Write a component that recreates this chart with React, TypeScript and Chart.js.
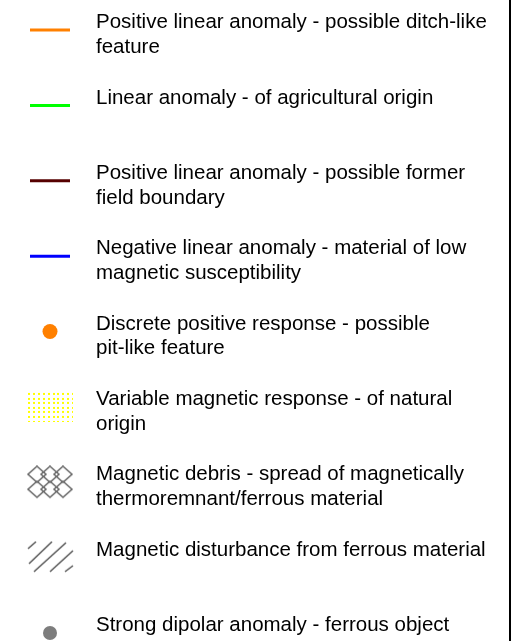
import React, { useEffect, useRef } from 'react';
import { Chart, registerables } from 'chart.js';

Chart.register(...registerables);

// ---- data ----
const legendLabels: string[][] = [
  ['Positive linear anomaly - possible ditch-like', 'feature'],
  ['Linear anomaly - of agricultural origin'],
  ['Positive linear anomaly - possible former', 'field boundary'],
  ['Negative linear anomaly - material of low', 'magnetic susceptibility'],
  ['Discrete positive response - possible', 'pit-like feature'],
  ['Variable magnetic response - of natural', 'origin'],
  ['Magnetic debris - spread of magnetically', 'thermoremnant/ferrous material'],
  ['Magnetic disturbance from ferrous material'],
  ['Strong dipolar anomaly - ferrous object'],
];
const legendRows: number[] = [0, 1, 2, 3, 4, 5, 6, 7, 8];
const symbolColumn = 1;
const symbolKinds: string[] = ['line', 'line', 'line', 'line', 'dot', 'dots', 'crosshatch', 'hatch', 'dot'];

// ---- styles ----
const symbolColors: string[] = ['#ff8000', '#00ff00', '#560000', '#0000ff', '#ff8000', '#ffff00', '#666666', '#555555', '#7d7d7d'];
const dotRadii: number[] = [0, 0, 0, 0, 7.5, 0, 0, 0, 7];
const FONT = "'Liberation Sans', Arial, Helvetica, sans-serif";
const FONT_SIZE = 20.5;
const LINE_HEIGHT = 1.2;
const FIRST_LINE_OFFSET = -7.5; // first text line sits slightly above its symbol
const Y_MIN = -0.398;
const Y_MAX = 8.106;

function makeDots(color: string): HTMLCanvasElement {
  const c = document.createElement('canvas');
  c.width = 46; c.height = 30;
  const ctx = c.getContext('2d')!;
  ctx.fillStyle = color;
  for (let r = 0; r < 7; r++) {
    for (let k = 0; k < 10; k++) {
      ctx.fillRect(Math.round(1 + k * 4.9), Math.round(1 + r * 4.6), 2, 2);
    }
  }
  return c;
}

function makeCrosshatch(color: string): HTMLCanvasElement {
  const c = document.createElement('canvas');
  c.width = 48; c.height = 34;
  const ctx = c.getContext('2d')!;
  ctx.strokeStyle = color;
  ctx.lineWidth = 1.5;
  const cxs = [11, 24, 37];
  const cys = [9, 24];
  for (const cy of cys) {
    for (const cx of cxs) {
      ctx.beginPath();
      ctx.moveTo(cx, cy - 8);
      ctx.lineTo(cx + 9, cy);
      ctx.lineTo(cx, cy + 8);
      ctx.lineTo(cx - 9, cy);
      ctx.closePath();
      ctx.stroke();
    }
  }
  return c;
}

function makeHatch(color: string): HTMLCanvasElement {
  const c = document.createElement('canvas');
  c.width = 48; c.height = 34;
  const ctx = c.getContext('2d')!;
  ctx.strokeStyle = color;
  ctx.lineWidth = 1.5;
  const segs = [
    [2, 8, 10, 1],
    [3, 23, 26, 1],
    [8, 31, 40, 2],
    [24, 31, 47, 10],
    [39, 31, 47, 25],
  ];
  for (const [x1, y1, x2, y2] of segs) {
    ctx.beginPath();
    ctx.moveTo(x1, y1);
    ctx.lineTo(x2, y2);
    ctx.stroke();
  }
  return c;
}

const zeroPad = (s: any) => {
  s.width = 0;
  s.paddingTop = 0;
  s.paddingBottom = 0;
  s.paddingLeft = 0;
  s.paddingRight = 0;
};

export default function App() {
  const ref = useRef<HTMLCanvasElement | null>(null);

  useEffect(() => {
    document.body.style.margin = '0';
    const canvas = ref.current;
    if (!canvas) return;

    const datasets = legendRows.map((row, i) => {
      const kind = symbolKinds[i];
      const color = symbolColors[i];
      const base: any = {
        label: legendLabels[i].join(' '),
        data: [{ x: symbolColumn, y: row }],
        showLine: false,
      };
      if (kind === 'line') {
        return { ...base, pointStyle: 'line', pointRadius: 20, pointBorderWidth: 3, pointBorderColor: color, pointBackgroundColor: color };
      }
      if (kind === 'dot') {
        return { ...base, pointStyle: 'circle', pointRadius: dotRadii[i], pointBorderWidth: 0, pointBackgroundColor: color, pointBorderColor: color };
      }
      const img = kind === 'dots' ? makeDots(color) : kind === 'crosshatch' ? makeCrosshatch(color) : makeHatch(color);
      return { ...base, pointStyle: img, pointRadius: 20, pointBorderWidth: 0 };
    });

    const chart = new Chart(canvas, {
      type: 'scatter',
      data: { datasets },
      options: {
        responsive: false,
        animation: false,
        devicePixelRatio: 1,
        events: [],
        layout: { autoPadding: false, padding: { left: 0, right: 22, top: 0, bottom: 0 } },
        plugins: { legend: { display: false }, tooltip: { enabled: false } },
        scales: {
          x: { type: 'linear', display: false, min: 0, max: 10.2 },
          y: {
            type: 'linear',
            position: 'left',
            reverse: true,
            min: Y_MIN,
            max: Y_MAX,
            grid: { display: false, drawTicks: false },
            border: { display: false },
            afterFit: zeroPad,
            afterBuildTicks: (s: any) => {
              const pxPerUnit = s.chart.height / (Y_MAX - Y_MIN);
              const lh = FONT_SIZE * LINE_HEIGHT;
              s.ticks = legendRows.map((v, i) => ({
                value: v + (FIRST_LINE_OFFSET + ((legendLabels[i].length - 1) * lh) / 2) / pxPerUnit,
              }));
            },
            ticks: {
              mirror: true,
              padding: 96,
              autoSkip: false,
              color: '#000',
              font: { family: FONT, size: FONT_SIZE, lineHeight: LINE_HEIGHT },
              callback: (_v: any, index: number) => legendLabels[index],
            },
          },
          y2: {
            type: 'linear',
            position: 'right',
            grid: { display: false, drawTicks: false },
            ticks: { display: false },
            border: { display: true, color: '#000', width: 2 },
            afterFit: zeroPad,
          },
        },
      } as any,
    });
    return () => chart.destroy();
  }, []);

  return (
    <div style={{ width: 532, height: 641 }}>
      <canvas ref={ref} width={532} height={641} style={{ display: 'block' }} />
    </div>
  );
}
